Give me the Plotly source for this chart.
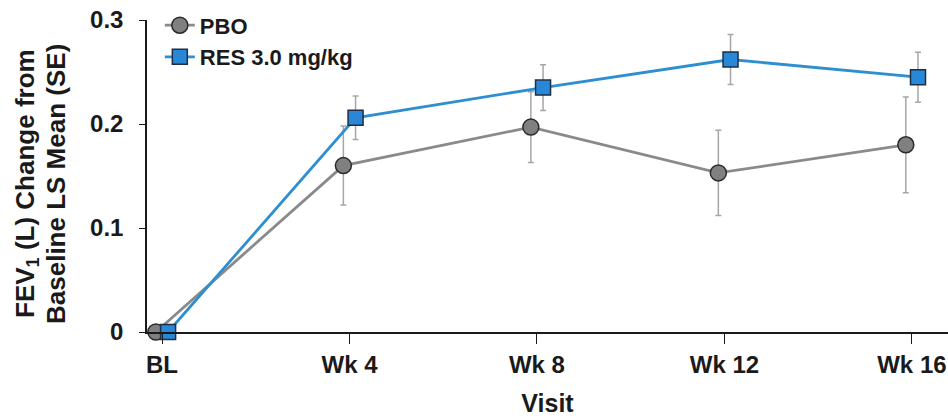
import plotly.graph_objects as go

# Visit schedule (weeks) and labels
weeks = [0, 4, 8, 12, 16]
visit_labels = ["BL", "Wk 4", "Wk 8", "Wk 12", "Wk 16"]

# LS mean change from baseline in FEV1 (L) and standard errors
pbo_mean = [0.0, 0.160, 0.197, 0.153, 0.180]
pbo_se = [0.0, 0.038, 0.034, 0.041, 0.046]
res_mean = [0.0, 0.206, 0.235, 0.262, 0.245]
res_se = [0.0, 0.021, 0.022, 0.024, 0.024]

# y-axis title, one string per line
y_title_lines = ["FEV<sub>1</sub> (L) Change from", "Baseline LS Mean (SE)"]

# small horizontal dodge so the two groups don't overlap
dodge = 0.13

FONT = "Arial, Liberation Sans, sans-serif"
INK = "#1a1a1a"

fig = go.Figure()

fig.add_trace(go.Scatter(
    x=[w - dodge for w in weeks], y=pbo_mean, name="PBO",
    mode="lines+markers",
    line=dict(color="#8a8a8a", width=2.8),
    marker=dict(symbol="circle", size=16, color="#808080",
                line=dict(color="#2b2b2b", width=1.5)),
    error_y=dict(type="data", array=pbo_se, visible=True,
                 color="#a6a6a6", thickness=1.5, width=3),
    cliponaxis=False,
))

fig.add_trace(go.Scatter(
    x=[w + dodge for w in weeks], y=res_mean, name="RES 3.0 mg/kg",
    mode="lines+markers",
    line=dict(color="#2e8fd0", width=2.8),
    marker=dict(symbol="square", size=15, color="#2887d6",
                line=dict(color="#1d2f45", width=1.5)),
    error_y=dict(type="data", array=res_se, visible=True,
                 color="#a6a6a6", thickness=1.5, width=3),
    cliponaxis=False,
))

# plot-area geometry in pixels (used to place the two-line y title)
W, H = 948, 420
ML, MR, MT, MB = 147, 0, 20, 88
pw, ph = W - ML - MR, H - MT - MB
y_mid_px = 184
for line_text, cx in zip(y_title_lines, [26, 56]):
    fig.add_annotation(
        text=line_text, textangle=-90, showarrow=False,
        xref="paper", yref="paper",
        x=(cx - ML) / pw, y=(H - MB - y_mid_px) / ph,
        xanchor="center", yanchor="middle",
        font=dict(family=FONT, size=26, color=INK, weight="bold"),
    )

fig.update_layout(
    width=W, height=H,
    margin=dict(l=ML, r=MR, t=MT, b=MB),
    paper_bgcolor="white", plot_bgcolor="white",
    font=dict(family=FONT, color=INK),
    showlegend=True,
    legend=dict(
        x=0.016, y=1.05, xanchor="left", yanchor="top",
        font=dict(family=FONT, size=22, color=INK, weight="bold"),
        bgcolor="rgba(0,0,0,0)", tracegroupgap=0, itemwidth=30,
    ),
    xaxis=dict(
        range=[-0.32, 16.77],
        tickmode="array", tickvals=weeks, ticktext=visit_labels,
        showline=True, linecolor=INK, linewidth=1.5,
        ticks="outside", ticklen=10, tickwidth=1.2, tickcolor=INK,
        showgrid=False, zeroline=False,
        tickfont=dict(family=FONT, size=24, color=INK, weight="bold"),
        title=dict(text="Visit", standoff=18,
                   font=dict(family=FONT, size=25, color=INK, weight="bold")),
    ),
    yaxis=dict(
        range=[0, 0.3],
        tickmode="array", tickvals=[0, 0.1, 0.2, 0.3],
        ticktext=["0", "0.1", "0.2", "0.3"],
        showline=True, linecolor=INK, linewidth=1.5,
        ticks="outside", ticklen=6, tickwidth=1.2, tickcolor=INK,
        ticklabelstandoff=11,
        showgrid=False, zeroline=False,
        tickfont=dict(family=FONT, size=24, color=INK, weight="bold"),
    ),
)

fig.write_html("out.html")
